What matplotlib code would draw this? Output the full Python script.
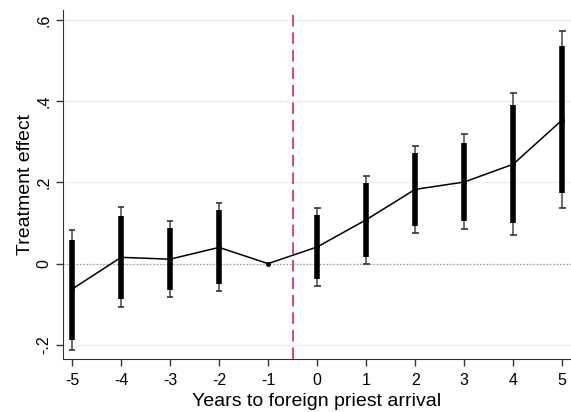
import matplotlib
matplotlib.use("Agg")
import matplotlib.pyplot as plt
import numpy as np

plt.rcParams['font.family'] = ['Liberation Sans', 'DejaVu Sans']
plt.rcParams['axes.unicode_minus'] = False

years = [-5, -4, -3, -2, -1, 0, 1, 2, 3, 4, 5]
effect = [-0.063, 0.0155, 0.011, 0.040, 0.0, 0.041, 0.108, 0.183, 0.201, 0.245, 0.354]
# 90% (thick) and 95% (thin) intervals
ci90_lo = [-0.187, -0.086, -0.066, -0.050, None, -0.039, 0.016, 0.093, 0.105, 0.099, 0.174]
ci90_hi = [0.059, 0.118, 0.088, 0.131, None, 0.121, 0.198, 0.272, 0.298, 0.390, 0.536]
ci95_lo = [-0.212, -0.108, -0.082, -0.068, None, -0.056, -0.002, 0.075, 0.085, 0.070, 0.138]
ci95_hi = [0.084, 0.139, 0.104, 0.149, None, 0.138, 0.217, 0.291, 0.319, 0.420, 0.573]
yticks = [-0.2, 0, 0.2, 0.4, 0.6]
yticklabels = ['-.2', '0', '.2', '.4', '.6']

fig = plt.figure(figsize=(5.71, 4.12), dpi=100)
ax = fig.add_axes([62.7 / 571, 1 - 359 / 412, (571 - 62.7) / 571, (359 - 10) / 412])

for yt in yticks:
    ax.axhline(yt, color='#eaf1f2', lw=1, zorder=0)
ax.axhline(0, color='#888888', lw=0.8, ls=(0, (1, 2)), zorder=1)
ax.axvline(-0.5, color='#d44a73', lw=1.4, ls=(0, (6, 3)), zorder=2)

for i, x in enumerate(years):
    if ci95_lo[i] is None:
        continue
    ax.vlines(x, ci95_lo[i], ci95_hi[i], color='#555555', lw=1.2, zorder=3)
    ax.hlines([ci95_lo[i], ci95_hi[i]], x - 0.07, x + 0.07, color='#333333', lw=1.2, zorder=3)
    ax.vlines(x, ci90_lo[i], ci90_hi[i], color='black', lw=4, zorder=4)

ax.plot(years, effect, color='black', lw=1.1, marker='o', ms=2.5, zorder=5)

ax.set_xlim(-5.19, 5.18)
ax.set_ylim(-0.235, 0.625)
ax.set_xticks(years)
ax.set_yticks(yticks)
ax.set_yticklabels(yticklabels, rotation=90, va='center')
ax.tick_params(axis='both', labelsize=11.5, length=5, color='#333333', width=1)
ax.tick_params(axis='x', pad=5)
ax.tick_params(axis='y', pad=3)
ax.spines['top'].set_visible(False)
ax.spines['right'].set_visible(False)
ax.spines['left'].set_color('#333333')
ax.spines['bottom'].set_color('#333333')
ax.set_xlabel('Years to foreign priest arrival', fontsize=14, labelpad=4)
ax.set_ylabel('Treatment effect', fontsize=14, labelpad=2)

fig.savefig('out.png', dpi=100)
